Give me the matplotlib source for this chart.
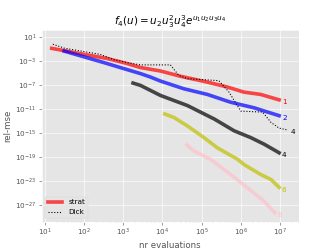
import matplotlib
matplotlib.use("Agg")
import matplotlib.pyplot as plt
from matplotlib.ticker import NullLocator, LogLocator

plt.style.use("ggplot")

# strat order 1
n1 = [15, 95, 380, 1230, 2750, 8900, 2.9e4, 1.4e5, 4.6e5, 1.2e6, 3.2e6, 9.5e6]
e1 = [1.4e-1, 1.5e-2, 2.9e-3, 4.2e-4, 8.7e-5, 2.3e-5, 3.0e-6, 3.2e-7, 4.7e-8, 6.8e-9, 2.8e-9, 3.5e-10]
# strat order 2
n2 = [31, 380, 1020, 2750, 4900, 8900, 3.5e4, 1.4e5, 5.5e5, 2.2e6, 9.5e6]
e2 = [4.9e-2, 4.2e-4, 5.9e-5, 8.5e-6, 2.3e-6, 4.8e-7, 2.5e-8, 2.8e-9, 1.4e-10, 1.6e-11, 7.9e-13]
# strat order 4
n4 = [1780, 2750, 8900, 4.3e4, 2.1e5, 6.8e5, 1.8e6, 4.0e6, 9.5e6]
e4 = [2.2e-7, 9.1e-8, 1.9e-9, 4.0e-11, 2.2e-13, 2.3e-15, 1.7e-16, 1.3e-17, 5.0e-19]
# strat order 6
n6 = [1.15e4, 1.95e4, 4.3e4, 1.15e5, 2.5e5, 8.3e5, 1.2e6, 3.2e6, 5.9e6, 9.5e6]
e6 = [1.5e-12, 4.1e-13, 1.6e-14, 1.7e-16, 3.5e-18, 4.0e-20, 5.6e-21, 1.2e-22, 1.7e-23, 8.3e-25]
# strat order 8
n8 = [4.2e4, 6.3e4, 1.7e5, 5.5e5, 1.5e6, 4.0e6, 7.4e6]
e8 = [1e-17, 1e-18, 4.0e-20, 1.2e-22, 6.5e-25, 3.6e-27, 5e-29]
# Dick order 4
nd = [16, 32, 257, 560, 1230, 2750, 1.6e4, 2.6e4, 4.3e4, 2.75e5, 5.0e5, 1.0e6, 3.6e6, 5.9e6, 9.5e6, 1.6e7]
ed = [6.8e-1, 1.45e-1, 1.4e-2, 1.95e-3, 6.0e-4, 2.4e-4, 2.4e-4, 4.4e-6, 1.2e-6, 5.6e-7, 6.8e-9, 4.6e-12,
      3.1e-12, 5.9e-14, 6.6e-15, 3.1e-15]

strat_series = [(n1, e1, "red", "1"), (n2, e2, "blue", "2"), (n4, e4, "black", "4"),
                (n6, e6, "y", "6"), (n8, e8, "pink", "8")]

fig, ax = plt.subplots(figsize=(6.4, 4.8), dpi=51.875)

for i, (n, e, c, lab) in enumerate(strat_series):
    ax.plot(n, e, color=c, lw=5, alpha=0.7, label="strat" if i == 0 else None)
    ax.annotate(lab, (n[-1], e[-1]), xytext=(4, -3), textcoords="offset points",
                color=c, ha="left", va="center", fontsize=10)

ax.plot(nd, ed, color="black", ls=":", lw=1.5, label="Dick")
ax.annotate("4", (nd[-1], ed[-1]), xytext=(4, -3), textcoords="offset points",
            color="black", ha="left", va="center", fontsize=10)

ax.set_xscale("log")
ax.set_yscale("log")
ax.set_xlim(10**0.915, 10**7.48)
ax.set_ylim(10**-29.8, 10**2.23)
ax.set_xticks([10.0**k for k in range(1, 8)])
ax.xaxis.set_minor_locator(LogLocator(base=10, subs=range(2, 10), numticks=20))
ax.set_yticks([10.0**k for k in range(1, -28, -4)])
ax.yaxis.set_minor_locator(NullLocator())
ax.set_xlabel("nr evaluations")
ax.set_ylabel("rel-mse")
ax.set_title(r"$f_4(u) = u_2u_3^2u_4^3e^{u_1u_2u_3u_4}$")
ax.legend(loc="lower left")

fig.savefig("out.png", dpi=51.875)
